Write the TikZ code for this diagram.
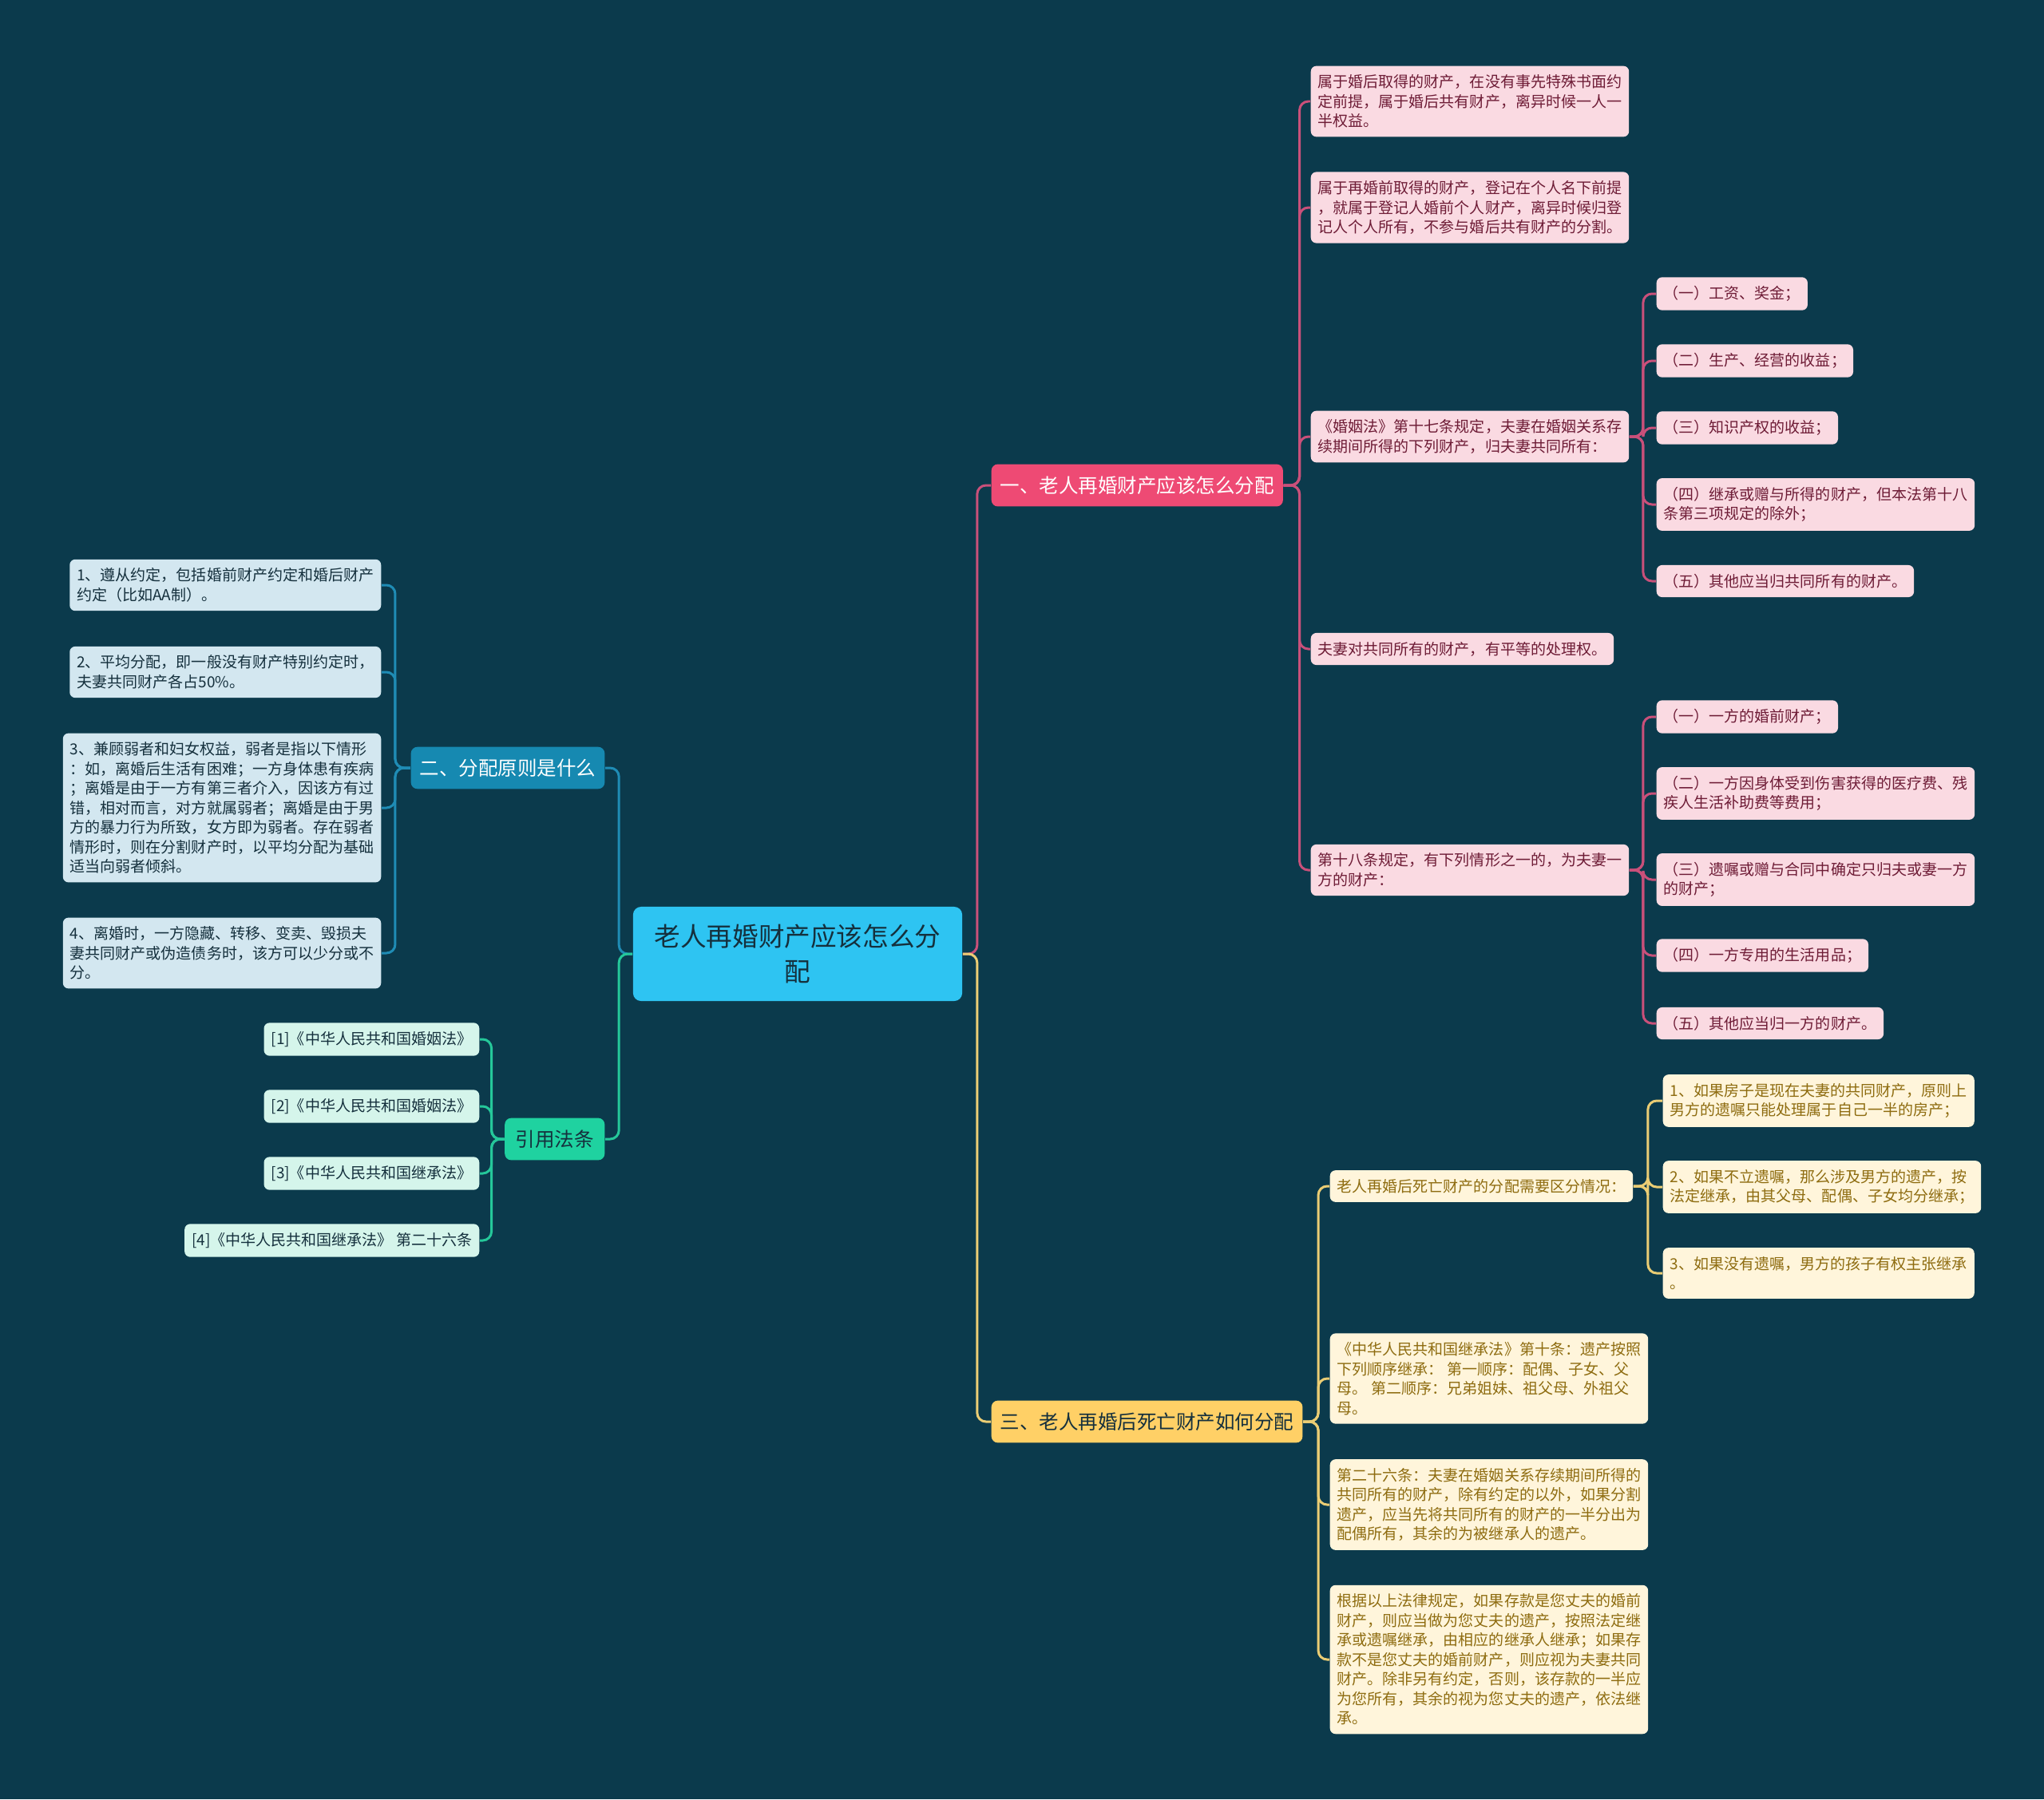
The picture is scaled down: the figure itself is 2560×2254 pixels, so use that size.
\documentclass[tikz,border=0pt]{standalone}
\usepackage{fontspec}
\newfontfamily\cjk{Noto Sans CJK SC}
\usepackage{tikz}
\usetikzlibrary{positioning}
\definecolor{cbg}{HTML}{0B3A4C}
\definecolor{croot}{HTML}{2EC4F2}
\definecolor{cdark}{HTML}{15303D}
\definecolor{cpink}{HTML}{EE4A74}
\definecolor{cpinkln}{HTML}{C9507A}
\definecolor{cpinklf}{HTML}{FADAE2}
\definecolor{cpinktx}{HTML}{6E1C36}
\definecolor{cyel}{HTML}{FFD066}
\definecolor{cyelln}{HTML}{EBCD74}
\definecolor{cyellf}{HTML}{FFF5DB}
\definecolor{cyeltx}{HTML}{8E6C10}
\definecolor{cblue}{HTML}{1689B1}
\definecolor{cblueln}{HTML}{1F8CB5}
\definecolor{cbluelf}{HTML}{D3E7F0}
\definecolor{cgrn}{HTML}{1FD2A0}
\definecolor{cgrnln}{HTML}{25C89A}
\definecolor{cgrnlf}{HTML}{D5F5EB}

\begin{document}
\begin{tikzpicture}[x=0.01cm,y=-0.01cm,
  leaf/.style={rounded corners=0.07cm,inner xsep=0.09cm,inner ysep=0.11cm,align=left,
               font={\cjk\fontsize{5.41pt}{6.97pt}\selectfont}},
  leafpk/.style={leaf,fill=cpinklf,text=cpinktx,anchor=west},
  leafyl/.style={leaf,fill=cyellf,text=cyeltx,anchor=west},
  leafbl/.style={leaf,fill=cbluelf,text=cdark,anchor=east},
  leafgn/.style={leaf,fill=cgrnlf,text=cdark,anchor=east},
  branch/.style={rounded corners=0.08cm,inner xsep=0.11cm,inner ysep=0.15cm,
               font={\cjk\fontsize{6.97pt}{8.5pt}\selectfont}},
  rootbox/.style={rounded corners=0.1cm,fill=croot,text=cdark,align=center,
               minimum width=4.12cm,minimum height=1.18cm,
               font={\cjk\fontsize{9.28pt}{12.5pt}\selectfont}},
  ln/.style={line width=0.85pt,rounded corners=0.11cm},
  pinkln/.style={ln,draw=cpinkln},
  yelln/.style={ln,draw=cyelln},
  blueln/.style={ln,draw=cblueln},
  grnln/.style={ln,draw=cgrnln}]
  \fill[cbg] (0,0) rectangle (2560,2254);
  \useasboundingbox (0,0) rectangle (2560,2254);

  % root and main branches
  \node[rootbox] (root) at (999,1195) {老人再婚财产应该怎么分\\配};
  \node[branch,fill=cpink,text=white,anchor=west] (one) at (1241,608) {一、老人再婚财产应该怎么分配};
  \node[branch,fill=cyel,text=cdark,anchor=west] (three) at (1241,1781) {三、老人再婚后死亡财产如何分配};
  \node[branch,fill=cblue,text=white,anchor=east] (two) at (758,962) {二、分配原则是什么};
  \node[branch,fill=cgrn,text=cdark,anchor=east,inner xsep=0.135cm] (cite) at (758,1427) {引用法条};

  % branch one
  \node[leafpk] (p1) at (1641,127) {属于婚后取得的财产，在没有事先特殊书面约\\定前提，属于婚后共有财产，离异时候一人一\\半权益。};
  \node[leafpk] (p2) at (1641,260) {属于再婚前取得的财产，登记在个人名下前提\\，就属于登记人婚前个人财产，离异时候归登\\记人个人所有，不参与婚后共有财产的分割。};
  \node[leafpk] (p3) at (1641,547) {《婚姻法》第十七条规定，夫妻在婚姻关系存\\续期间所得的下列财产，归夫妻共同所有：};
  \node[leafpk] (p4) at (1641,813) {夫妻对共同所有的财产，有平等的处理权。};
  \node[leafpk] (p5) at (1641,1090) {第十八条规定，有下列情形之一的，为夫妻一\\方的财产：};
  \node[leafpk] (a1) at (2074,368) {（一）工资、奖金；};
  \node[leafpk] (a2) at (2074,452) {（二）生产、经营的收益；};
  \node[leafpk] (a3) at (2074,536) {（三）知识产权的收益；};
  \node[leafpk] (a4) at (2074,632) {（四）继承或赠与所得的财产，但本法第十八\\条第三项规定的除外；};
  \node[leafpk] (a5) at (2074,728) {（五）其他应当归共同所有的财产。};
  \node[leafpk] (s1) at (2074,898) {（一）一方的婚前财产；};
  \node[leafpk] (s2) at (2074,994) {（二）一方因身体受到伤害获得的医疗费、残\\疾人生活补助费等费用；};
  \node[leafpk] (s3) at (2074,1102) {（三）遗嘱或赠与合同中确定只归夫或妻一方\\的财产；};
  \node[leafpk] (s4) at (2074,1197) {（四）一方专用的生活用品；};
  \node[leafpk] (s5) at (2074,1282) {（五）其他应当归一方的财产。};

  % branch three
  \node[leafyl] (y1) at (1665,1486) {老人再婚后死亡财产的分配需要区分情况：};
  \node[leafyl] (y2) at (1665,1727) {《中华人民共和国继承法》第十条：遗产按照\\下列顺序继承： 第一顺序：配偶、子女、父\\母。 第二顺序：兄弟姐妹、祖父母、外祖父\\母。};
  \node[leafyl] (y3) at (1665,1885) {第二十六条：夫妻在婚姻关系存续期间所得的\\共同所有的财产，除有约定的以外，如果分割\\遗产，应当先将共同所有的财产的一半分出为\\配偶所有，其余的为被继承人的遗产。};
  \node[leafyl] (y4) at (1665,2079) {根据以上法律规定，如果存款是您丈夫的婚前\\财产，则应当做为您丈夫的遗产，按照法定继\\承或遗嘱继承，由相应的继承人继承；如果存\\款不是您丈夫的婚前财产，则应视为夫妻共同\\财产。除非另有约定，否则，该存款的一半应\\为您所有，其余的视为您丈夫的遗产，依法继\\承。};
  \node[leafyl] (c1) at (2082,1379) {1、如果房子是现在夫妻的共同财产，原则上\\男方的遗嘱只能处理属于自己一半的房产；};
  \node[leafyl] (c2) at (2082,1487) {2、如果不立遗嘱，那么涉及男方的遗产，按\\法定继承，由其父母、配偶、子女均分继承；};
  \node[leafyl] (c3) at (2082,1595) {3、如果没有遗嘱，男方的孩子有权主张继承\\。};

  % branch two
  \node[leafbl] (l1) at (478,733) {1、遵从约定，包括婚前财产约定和婚后财产\\约定（比如AA制）。};
  \node[leafbl] (l2) at (478,842) {2、平均分配，即一般没有财产特别约定时，\\夫妻共同财产各占50\%。};
  \node[leafbl] (l3) at (478,1012) {3、兼顾弱者和妇女权益，弱者是指以下情形\\：如，离婚后生活有困难；一方身体患有疾病\\；离婚是由于一方有第三者介入，因该方有过\\错，相对而言，对方就属弱者；离婚是由于男\\方的暴力行为所致，女方即为弱者。存在弱者\\情形时，则在分割财产时，以平均分配为基础\\适当向弱者倾斜。};
  \node[leafbl] (l4) at (478,1194) {4、离婚时，一方隐藏、转移、变卖、毁损夫\\妻共同财产或伪造债务时，该方可以少分或不\\分。};

  % cited laws
  \node[leafgn] (r1) at (601,1302) {[1]《中华人民共和国婚姻法》};
  \node[leafgn] (r2) at (601,1386) {[2]《中华人民共和国婚姻法》};
  \node[leafgn] (r3) at (601,1470) {[3]《中华人民共和国继承法》};
  \node[leafgn] (r4) at (601,1554) {[4]《中华人民共和国继承法》 第二十六条};

  % connectors
  \draw[pinkln] (root.east) -- ++(18,0) |- (one.west);
  \draw[yelln] (root.east) -- ++(18,0) |- (three.west);
  \draw[blueln] (root.west) -- ++(-17,0) |- (two.east);
  \draw[grnln] (root.west) -- ++(-17,0) |- (cite.east);
  \foreach \c in {p1,p2,p3,p4,p5}
     \draw[pinkln] (one.east) -- ++(20,0) |- (\c.west);
  \foreach \c in {a1,a2,a3,a4,a5}
     \draw[pinkln] (p3.east) -- ++(17,0) |- (\c.west);
  \foreach \c in {s1,s2,s3,s4,s5}
     \draw[pinkln] (p5.east) -- ++(17,0) |- (\c.west);
  \foreach \c in {y1,y2,y3,y4}
     \draw[yelln] (three.east) -- ++(19,0) |- (\c.west);
  \foreach \c in {c1,c2,c3}
     \draw[yelln] (y1.east) -- ++(18,0) |- (\c.west);
  \foreach \c in {l1,l2,l3,l4}
     \draw[blueln] (two.west) -- ++(-19,0) |- (\c.east);
  \foreach \c in {r1,r2,r3,r4}
     \draw[grnln] (cite.west) -- ++(-16,0) |- (\c.east);
\end{tikzpicture}
\end{document}
